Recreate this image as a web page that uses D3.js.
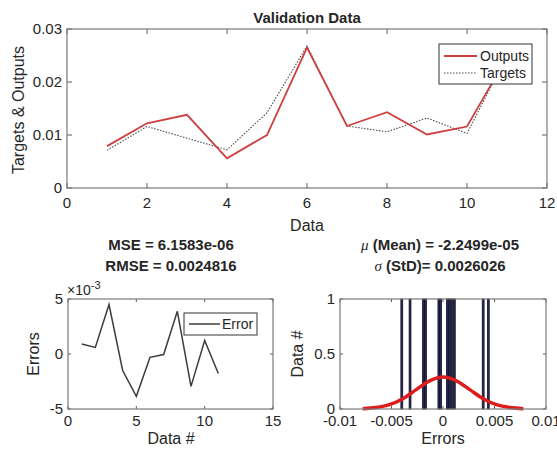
<!DOCTYPE html>
<html>
<head>
<meta charset="utf-8">
<script src="https://cdn.jsdelivr.net/npm/d3@7"></script>
<style>
  body { margin: 0; background: #fff; }
  text { font-family: "Liberation Sans", Arial, sans-serif; fill: #262626; }
</style>
</head>
<body>
<div id="chart"></div>
<script>
// validation data
var sampleIdx = [1, 2, 3, 4, 5, 6, 7, 8, 9, 10, 11];
var outputs = [0.0079, 0.0122, 0.0138, 0.0056, 0.0100, 0.0265, 0.0117, 0.0143, 0.0101, 0.0116, 0.0247];
var targets = [0.0071, 0.0116, 0.0094, 0.0072, 0.0142, 0.0268, 0.0117, 0.0106, 0.0132, 0.0103, 0.0250];
// errors in units of 1e-3
var errors = [0.9, 0.6, 4.5, -1.5, -3.85, -0.3, -0.05, 3.88, -2.94, 1.22, -1.77];
// histogram bin centres, each with one count
var histBins = [-0.0040, -0.0032, -0.0019, -0.0017, -0.0004, -0.00023, 0.00042, 0.00062, 0.00085, 0.0011, 0.0039, 0.0044];
var histCounts = [1, 1, 1, 1, 1, 1, 1, 1, 1, 1, 1, 1];
// fitted normal curve points
var fitX = [-0.0078, -0.0065, -0.0052, -0.0039, -0.0026, -0.0013, 0, 0.0013, 0.0026, 0.0039, 0.0052, 0.0065, 0.0078];
var fitY = [0.003, 0.013, 0.039, 0.094, 0.176, 0.256, 0.29, 0.256, 0.176, 0.094, 0.039, 0.013, 0.003];

var topXTicks = [0, 2, 4, 6, 8, 10, 12];
var topYTicks = [0, 0.01, 0.02, 0.03];
var errXTicks = [0, 5, 10, 15];
var errYTicks = [-5, 0, 5];
var histXTicks = [-0.01, -0.005, 0, 0.005, 0.01];
var histYTicks = [0, 0.5, 1];

var svg = d3.select("#chart").append("svg")
    .attr("width", 557)
    .attr("height", 456);

// draws a MATLAB-like box with inward ticks on all sides
function drawBox(x, y, xTicks, yTicks, tickLen, labelGap, xFmt, yFmt) {
    var g = svg.append("g");
    var x0 = x.range()[0], x1 = x.range()[1];
    var y0 = y.range()[0], y1 = y.range()[1];
    g.append("rect")
        .attr("x", x0).attr("y", y1)
        .attr("width", x1 - x0).attr("height", y0 - y1)
        .attr("fill", "#fff");
    var frame = g.append("g").attr("class", "frame");
    xTicks.forEach(function (t) {
        frame.append("line").attr("x1", x(t)).attr("x2", x(t)).attr("y1", y0).attr("y2", y0 - tickLen);
        frame.append("line").attr("x1", x(t)).attr("x2", x(t)).attr("y1", y1).attr("y2", y1 + tickLen);
        g.append("text").attr("x", x(t)).attr("y", y0 + labelGap)
            .attr("text-anchor", "middle").style("font-size", "15px").text(xFmt(t));
    });
    yTicks.forEach(function (t) {
        frame.append("line").attr("x1", x0).attr("x2", x0 + tickLen).attr("y1", y(t)).attr("y2", y(t));
        frame.append("line").attr("x1", x1).attr("x2", x1 - tickLen).attr("y1", y(t)).attr("y2", y(t));
        g.append("text").attr("x", x0 - 5).attr("y", y(t) + 5)
            .attr("text-anchor", "end").style("font-size", "15px").text(yFmt(t));
    });
    frame.selectAll("line").attr("stroke", "#5a5a5a").attr("stroke-width", 1);
    return g;
}

function outline(x, y) {
    var x0 = x.range()[0], x1 = x.range()[1];
    var y0 = y.range()[0], y1 = y.range()[1];
    svg.append("rect")
        .attr("x", x0).attr("y", y1)
        .attr("width", x1 - x0).attr("height", y0 - y1)
        .attr("fill", "none").attr("stroke", "#7a7a7a").attr("stroke-width", 1.2);
}

function label(txt, cx, cy, size, weight, rotate) {
    var t = svg.append("text")
        .attr("text-anchor", "middle")
        .style("font-size", size + "px")
        .style("font-weight", weight || "normal")
        .text(txt);
    if (rotate) {
        t.attr("transform", "translate(" + cx + "," + cy + ") rotate(-90)").attr("y", 5);
    } else {
        t.attr("x", cx).attr("y", cy);
    }
    return t;
}

// ---------------- top plot ----------------
var xTop = d3.scaleLinear().domain([0, 12]).range([67, 547]);
var yTop = d3.scaleLinear().domain([0, 0.03]).range([188, 29]);
drawBox(xTop, yTop, topXTicks, topYTicks, 5, 20, String, function (d) { return d === 0 ? "0" : d3.format(".2f")(d); });

var lineTop = function (vals) {
    return d3.line()
        .x(function (d, i) { return xTop(sampleIdx[i]); })
        .y(function (d) { return yTop(d); })(vals);
};
svg.append("path").attr("d", lineTop(targets))
    .attr("fill", "none").attr("stroke", "#4a4a4a").attr("stroke-width", 1.1)
    .attr("stroke-dasharray", "1.5,1.5");
svg.append("path").attr("d", lineTop(outputs))
    .attr("fill", "none").attr("stroke", "#cc4040").attr("stroke-width", 1.8);
outline(xTop, yTop);

// legend
var lg = svg.append("g");
lg.append("rect").attr("x", 439).attr("y", 44).attr("width", 93).attr("height", 40)
    .attr("fill", "#fff").attr("stroke", "#333").attr("stroke-width", 1);
lg.append("line").attr("x1", 444).attr("x2", 477).attr("y1", 56).attr("y2", 56)
    .attr("stroke", "#cc4040").attr("stroke-width", 1.8);
lg.append("line").attr("x1", 444).attr("x2", 477).attr("y1", 73).attr("y2", 73)
    .attr("stroke", "#4a4a4a").attr("stroke-width", 1.1).attr("stroke-dasharray", "1.5,1.5");
lg.append("text").attr("x", 480).attr("y", 61).style("font-size", "14px").text("Outputs");
lg.append("text").attr("x", 480).attr("y", 78).style("font-size", "14px").text("Targets");

label("Validation Data", 307, 23, 15, "bold");
label("Data", 307, 231, 16);
label("Targets & Outputs", 19, 110, 16, "normal", true);

// ---------------- error plot ----------------
var xErr = d3.scaleLinear().domain([0, 15]).range([68, 273]);
var yErr = d3.scaleLinear().domain([-5, 5]).range([409, 299]);
drawBox(xErr, yErr, errXTicks, errYTicks, 3, 17, String, String);
svg.append("path")
    .attr("d", d3.line()
        .x(function (d, i) { return xErr(sampleIdx[i]); })
        .y(function (d) { return yErr(d); })(errors))
    .attr("fill", "none").attr("stroke", "#3c3c3c").attr("stroke-width", 1.5);
outline(xErr, yErr);

var lg2 = svg.append("g");
lg2.append("rect").attr("x", 184).attr("y", 313).attr("width", 73).attr("height", 22)
    .attr("fill", "#fff").attr("stroke", "#333").attr("stroke-width", 1);
lg2.append("line").attr("x1", 189).attr("x2", 220).attr("y1", 324).attr("y2", 324)
    .attr("stroke", "#3c3c3c").attr("stroke-width", 1.5);
lg2.append("text").attr("x", 222).attr("y", 329).style("font-size", "14px").text("Error");

var mult = svg.append("text").attr("x", 67).attr("y", 295).style("font-size", "14px");
mult.append("tspan").text("\u00d710");
mult.append("tspan").attr("dy", -6).style("font-size", "11px").text("-3");

label("MSE = 6.1583e-06", 171, 250, 15, "bold");
label("RMSE = 0.0024816", 171, 271, 15, "bold");
label("Errors", 34, 354, 16, "normal", true);
label("Data #", 171, 444, 16);

// ---------------- histogram ----------------
var xHist = d3.scaleLinear().domain([-0.01, 0.01]).range([340, 546]);
var yHist = d3.scaleLinear().domain([0, 1]).range([409, 299]);
drawBox(xHist, yHist, histXTicks, histYTicks, 3, 17, String, String);
var binW = 0.00018;
svg.append("g").selectAll("rect")
    .data(histBins)
    .enter().append("rect")
    .attr("x", function (d) { return xHist(d - binW / 2); })
    .attr("width", xHist(binW) - xHist(0))
    .attr("y", function (d, i) { return yHist(histCounts[i]); })
    .attr("height", function (d, i) { return yHist(0) - yHist(histCounts[i]); })
    .attr("fill", "#2a2a5a").attr("stroke", "#111122").attr("stroke-width", 0.8);
svg.append("path")
    .datum(fitY)
    .attr("d", d3.line()
        .curve(d3.curveMonotoneX)
        .x(function (d, i) { return xHist(fitX[i]); })
        .y(function (d) { return yHist(d); }))
    .attr("fill", "none").attr("stroke", "#dd1c1c").attr("stroke-width", 3.5);
outline(xHist, yHist);

var mu = svg.append("text").attr("x", 440).attr("y", 250).attr("text-anchor", "middle")
    .style("font-size", "15px").style("font-weight", "bold");
mu.append("tspan").style("font-style", "italic").style("font-weight", "normal")
    .style("font-family", "'Liberation Serif', serif").text("\u03bc");
mu.append("tspan").text(" (Mean) = -2.2499e-05");
var sg = svg.append("text").attr("x", 440).attr("y", 271).attr("text-anchor", "middle")
    .style("font-size", "15px").style("font-weight", "bold");
sg.append("tspan").style("font-style", "italic").style("font-weight", "normal")
    .style("font-family", "'Liberation Serif', serif").text("\u03c3");
sg.append("tspan").text(" (StD)= 0.0026026");
label("Data #", 298, 354, 16, "normal", true);
label("Errors", 443, 444, 16);
</script>
</body>
</html>
